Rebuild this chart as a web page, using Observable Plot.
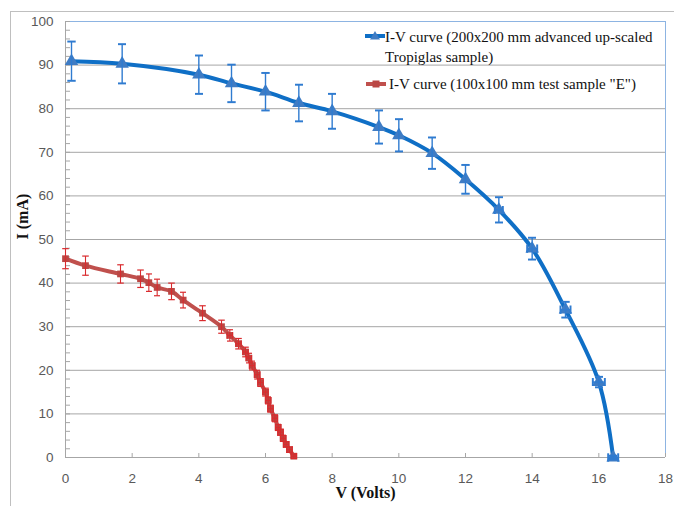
<!DOCTYPE html>
<html>
<head>
<meta charset="utf-8">
<script src="https://cdn.jsdelivr.net/npm/d3@7"></script>
<script src="https://cdn.jsdelivr.net/npm/@observablehq/plot@0.6"></script>
<style>
  html, body { margin: 0; padding: 0; background: #fff; }
  #wrap { position: relative; width: 674px; height: 506px; overflow: hidden; }
  #border { position: absolute; left: 10px; top: 11px; width: 700px; height: 520px;
            border-left: 1px solid #bfbfbf; border-top: 1px solid #bfbfbf; }
  #chart { position: absolute; left: 0; top: 0; }
  .leg { position: absolute; font-family: "Liberation Serif", serif; font-size: 15px; color: #111; line-height: 20px; white-space: nowrap; }
</style>
</head>
<body>
<div id="wrap">
  <div id="border"></div>
  <div id="chart"></div>
  <div id="legend"></div>
</div>
<script>
// ---- data ----
const xTicks = [0, 2, 4, 6, 8, 10, 12, 14, 16, 18];
const yTicks = [0, 10, 20, 30, 40, 50, 60, 70, 80, 90, 100];
const yMinorTicks = d3.range(0, 101, 2);

const seriesNames = [
  "I-V curve (200x200 mm advanced up-scaled Tropiglas sample)",
  "I-V curve (100x100 mm test sample \"E\")"
];

const blueV    = [0.18, 1.7, 4.0, 4.98, 6.0, 7.0, 8.0, 9.4, 10.0, 11.0, 12.0, 13.0, 14.0, 15.0, 16.0, 16.43];
const blueI    = [90.9, 90.3, 87.8, 85.8, 83.9, 81.3, 79.4, 75.8, 73.9, 69.8, 63.8, 56.8, 47.9, 33.9, 17.3, 0];
const blueErrI = [4.5, 4.5, 4.4, 4.3, 4.3, 4.2, 4.0, 3.8, 3.7, 3.6, 3.3, 2.9, 2.5, 1.8, 1.2, 0.4];
const blueErrV = [0, 0, 0, 0, 0, 0, 0, 0, 0, 0, 0, 0.12, 0.15, 0.15, 0.18, 0.15];

const redV    = [0, 0.6, 1.65, 2.25, 2.5, 2.75, 3.18, 3.53, 4.11, 4.68, 4.93, 5.19, 5.4, 5.5, 5.6, 5.75, 5.85, 6.0, 6.08, 6.15, 6.28, 6.38, 6.45, 6.53, 6.62, 6.72, 6.85];
const redI    = [45.6, 44.0, 42.1, 41.0, 40.1, 39.0, 38.1, 36.1, 33.1, 30.0, 28.0, 26.1, 24.2, 22.8, 21.1, 19.0, 17.2, 15.0, 13.1, 11.2, 9.0, 6.9, 5.8, 4.4, 3.0, 1.8, 0.3];
const redErrI = [2.3, 2.2, 2.1, 2.0, 2.0, 1.9, 1.9, 1.8, 1.7, 1.5, 1.3, 1.2, 1.1, 1.1, 1.0, 1.0, 0.9, 0.9, 0.8, 0.8, 0.8, 0.7, 0.7, 0.7, 0.6, 0.6, 0.5];
const redErrV = [0, 0, 0, 0, 0, 0, 0, 0, 0, 0, 0.08, 0.08, 0.08, 0.08, 0.08, 0.08, 0.08, 0.08, 0.08, 0.08, 0.08, 0.08, 0.08, 0.08, 0.08, 0.08, 0.08];

// ---- styles ----
const BLUE_LINE = "#0F6FC6", BLUE_MARK = "#3F7CC4", BLUE_ERR = "#2F7BD0";
const RED_LINE = "#C0504D", RED_MARK = "#BA4744", RED_ERR = "#D92B2E";
const GRID = "#a6a6a6";

const blue = blueV.map((v, i) => ({v, i: blueI[i], ei: blueErrI[i], ev: blueErrV[i]}));
const red = redV.map((v, i) => ({v, i: redI[i], ei: redErrI[i], ev: redErrV[i]}));

function errMarks(data, color, w) {
  return [
    Plot.link(data.filter(d => d.ei > 0), {x1: "v", x2: "v", y1: d => d.i - d.ei, y2: d => d.i + d.ei,
      stroke: color, strokeWidth: w, markerStart: "tick", markerEnd: "tick"}),
    Plot.link(data.filter(d => d.ev > 0), {x1: d => d.v - d.ev, x2: d => d.v + d.ev, y1: "i", y2: "i",
      stroke: color, strokeWidth: w, markerStart: "tick", markerEnd: "tick"})
  ];
}

const chart = Plot.plot({
  width: 674,
  height: 506,
  marginLeft: 65,
  marginRight: 9,
  marginTop: 21,
  marginBottom: 49,
  style: {fontFamily: "Liberation Sans, sans-serif", fontSize: "13px", color: "#595959", background: "transparent"},
  x: {domain: [0, 18]},
  y: {domain: [0, 100]},
  marks: [
    Plot.gridY(yTicks.filter(d => d > 0 && d < 100), {stroke: GRID, strokeOpacity: 1}),
    Plot.ruleY([100], {stroke: "#8DB4E2"}),
    Plot.ruleX([18], {stroke: "#8DB4E2"}),
    Plot.ruleY([0], {stroke: GRID}),
    Plot.ruleX([0], {stroke: GRID}),
    // y minor ticks (inside)
    Plot.axisY({ticks: yMinorTicks, tickSize: -5, tickFormat: () => "", stroke: GRID, label: null}),
    // y labels
    Plot.axisY({ticks: yTicks, tickSize: 0, tickPadding: 12, tickFormat: d => d, label: null, fill: "#595959", fontSize: 13.5}),
    // x ticks (inside)
    Plot.axisX({ticks: xTicks, tickSize: -4, tickFormat: () => "", stroke: GRID, label: null}),
    // x labels
    Plot.axisX({ticks: xTicks, tickSize: 0, tickPadding: 16, tickFormat: d => d, label: null, fill: "#595959", fontSize: 13.5}),
    // axis titles
    Plot.text(["I (mA)"], {frameAnchor: "left", dx: -43, rotate: -90, fontWeight: "bold",
      fontFamily: "Liberation Serif, serif", fontSize: 16, fill: "#111"}),
    Plot.text(["V (Volts)"], {frameAnchor: "bottom", dy: 40, fontWeight: "bold",
      fontFamily: "Liberation Serif, serif", fontSize: 16, fill: "#111"}),
    // blue series
    Plot.line(blue, {x: "v", y: "i", stroke: BLUE_LINE, strokeWidth: 4, curve: "catmull-rom"}),
    Plot.dot(blue, {x: "v", y: "i", symbol: "triangle", r: 5, fill: BLUE_MARK}),
    ...errMarks(blue, BLUE_ERR, 1.4),
    // red series
    Plot.line(red, {x: "v", y: "i", stroke: RED_LINE, strokeWidth: 4, curve: "catmull-rom"}),
    Plot.dot(red, {x: "v", y: "i", symbol: "square", r: 3.8, fill: RED_MARK}),
    ...errMarks(red, RED_ERR, 1.1)
  ]
});
document.getElementById("chart").appendChild(chart);

// ---- legend ----
const legend = document.getElementById("legend");
legend.innerHTML = `
  <svg style="position:absolute;left:364px;top:30px" width="22" height="12">
    <line x1="1" y1="6" x2="21" y2="6" stroke="${BLUE_LINE}" stroke-width="4"/>
    <path d="M11,1 L16,9.5 L6,9.5 Z" fill="${BLUE_MARK}"/>
  </svg>
  <div class="leg" style="left:385px;top:27px">${"I-V curve (200x200 mm advanced up-scaled"}<br>${"Tropiglas sample)"}</div>
  <svg style="position:absolute;left:365px;top:78px" width="22" height="12">
    <line x1="1" y1="6" x2="21" y2="6" stroke="${RED_LINE}" stroke-width="4"/>
    <rect x="7.5" y="2.5" width="7" height="7" fill="${RED_MARK}"/>
  </svg>
  <div class="leg" style="left:389px;top:74px">${seriesNames[1]}</div>
`;
</script>
</body>
</html>
